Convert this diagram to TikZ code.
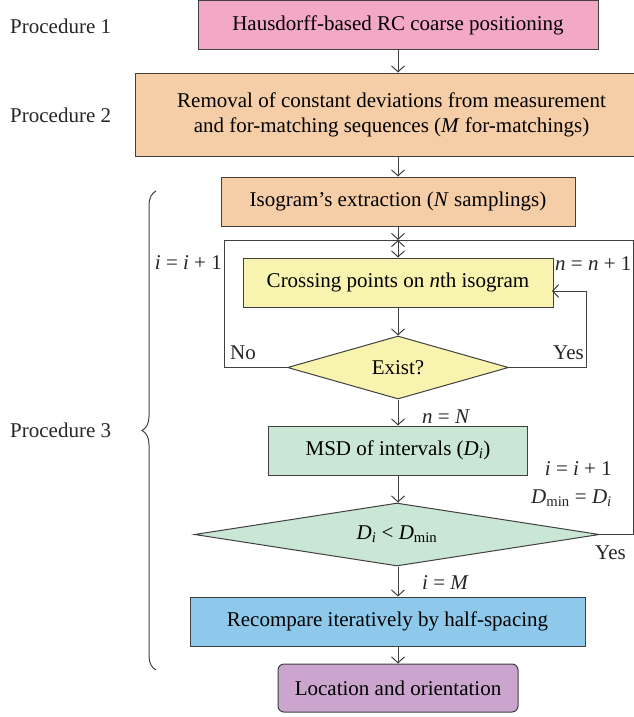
\documentclass[tikz,border=0pt]{standalone}
\usepackage{fontspec}
\setmainfont{Liberation Serif}
\usetikzlibrary{shapes.geometric,arrows.meta,decorations.pathreplacing}
\definecolor{linec}{RGB}{64,64,64}
\definecolor{cpink}{RGB}{243,168,198}
\definecolor{cpeach}{RGB}{245,206,168}
\definecolor{cyellow}{RGB}{248,243,174}
\definecolor{cgreen}{RGB}{202,230,212}
\definecolor{cblue}{RGB}{142,201,235}
\definecolor{cpurple}{RGB}{203,165,205}
\begin{document}
\begin{tikzpicture}[x=1pt,y=-1pt,
  font=\fontsize{21}{25}\selectfont,
  box/.style={draw=linec, line width=1pt, inner sep=0pt, align=center},
  dia/.style={draw=linec, line width=1pt, inner sep=0pt, shape=diamond},
  arr/.style={draw=linec, line width=1pt, -{Straight Barb[length=6pt,width=13pt,line width=1pt]}},
  dbl/.style={draw=linec, line width=1pt, {Straight Barb[length=6pt,width=13pt,line width=1pt]}-{Straight Barb[length=6pt,width=13pt,line width=1pt]}},
  ln/.style={draw=linec, line width=1pt},
  lbl/.style={inner sep=0pt, text=black!85}]
\useasboundingbox (0,0) rectangle (634,717);
\clip (0,0) rectangle (634,717);
% boxes
\node[box, fill=cpink, minimum width=400, minimum height=49] (b1) at (398,25.5) {Hausdorff-based RC coarse positioning};
\node[box, fill=cpeach, minimum width=513, minimum height=83] (b2) at (391.5,114.5) {Removal of constant deviations from measurement\\and for-matching sequences (\textit{M} for-matchings)};
\node[box, fill=cpeach, minimum width=354, minimum height=49] (b3) at (398,201.5) {Isogram’s extraction (\textit{N} samplings)};
\node[box, fill=cyellow, minimum width=310, minimum height=49] (cross) at (398,282.5) {Crossing points on \textit{n}th isogram};
\node[dia, fill=cyellow, aspect=3.5, minimum width=221, minimum height=63] (exist) at (398,367.5) {Exist?};
\node[box, fill=cgreen, minimum width=259, minimum height=49] (msd) at (398,450.5) {MSD of intervals (\textit{D}\textsubscript{\textit{i}})};
\node[dia, fill=cgreen, aspect=6.4, minimum width=405, minimum height=63] (cmp) at (397,534.5) {\textit{D}\textsubscript{\textit{i}} {<} \textit{D}\textsubscript{min}};
\node[box, fill=cblue, minimum width=395, minimum height=49] (rec) at (387.5,621.5) {Recompare iteratively by half-spacing};
\node[box, fill=cpurple, minimum width=240, minimum height=48, rounded corners=6pt] (loc) at (398,688) {Location and orientation};
% coordinates
\coordinate (j) at (398,240);
\coordinate (nl) at (224,367.5);
\coordinate (yr) at (586,367.5);
\coordinate (ci) at (552,291);
\coordinate (br) at (633,534.5);
% connectors
\draw[arr] (b1.south) -- (b1.south |- b2.north);
\draw[arr] (b3.south |- b2.south) -- (b3.north);
\draw[arr] (b3.south) -- (j);
\draw[dbl] (j) -- (j |- cross.north);
\draw[arr] (cross.south) -- (exist.north);
\draw[ln] (exist.west) -- (nl) |- (j);
\draw[arr] (exist.east) -- (yr) |- (ci);
\draw[arr] (exist.south) -- (msd.north);
\draw[arr] (msd.south) -- (msd.south |- cmp.north);
\draw[ln] (cmp.east) -- (br) |- (j);
\draw[arr] (msd.south |- cmp.south) -- (msd.south |- rec.north);
\draw[arr] (msd.south |- rec.south) -- (loc.north);
% brace
\coordinate (bb) at (156,670);
\coordinate (bt) at (156,191);
\draw[ln, line width=1pt, decorate, decoration={brace, amplitude=14pt}] (bb) -- (bt);
% labels
\node[lbl, anchor=west] (p1) at (10,26) {Procedure 1};
\node[lbl, anchor=west] (p2) at (10,115) {Procedure 2};
\node[lbl, anchor=west] (p3) at (10,430) {Procedure 3};
\node[lbl, anchor=east] (l1) at (222,263) {\textit{i} = \textit{i} + 1};
\node[lbl, anchor=west] (l2) at (555,264) {\textit{n} = \textit{n} + 1};
\node[lbl, anchor=west] (l3) at (230,353) {No};
\node[lbl, anchor=west] (l4) at (553,353) {Yes};
\node[lbl, anchor=west] (l5) at (422,417) {\textit{n} = \textit{N}};
\node[lbl, anchor=east] (l6) at (612,469) {\textit{i} = \textit{i} + 1};
\node[lbl, anchor=east] (l7) at (612,498) {\textit{D}\textsubscript{min} = \textit{D}\textsubscript{\textit{i}}};
\node[lbl, anchor=west] (l8) at (595,553) {Yes};
\node[lbl, anchor=west] (l9) at (422,583) {\textit{i} = \textit{M}};
\end{tikzpicture}
\end{document}
